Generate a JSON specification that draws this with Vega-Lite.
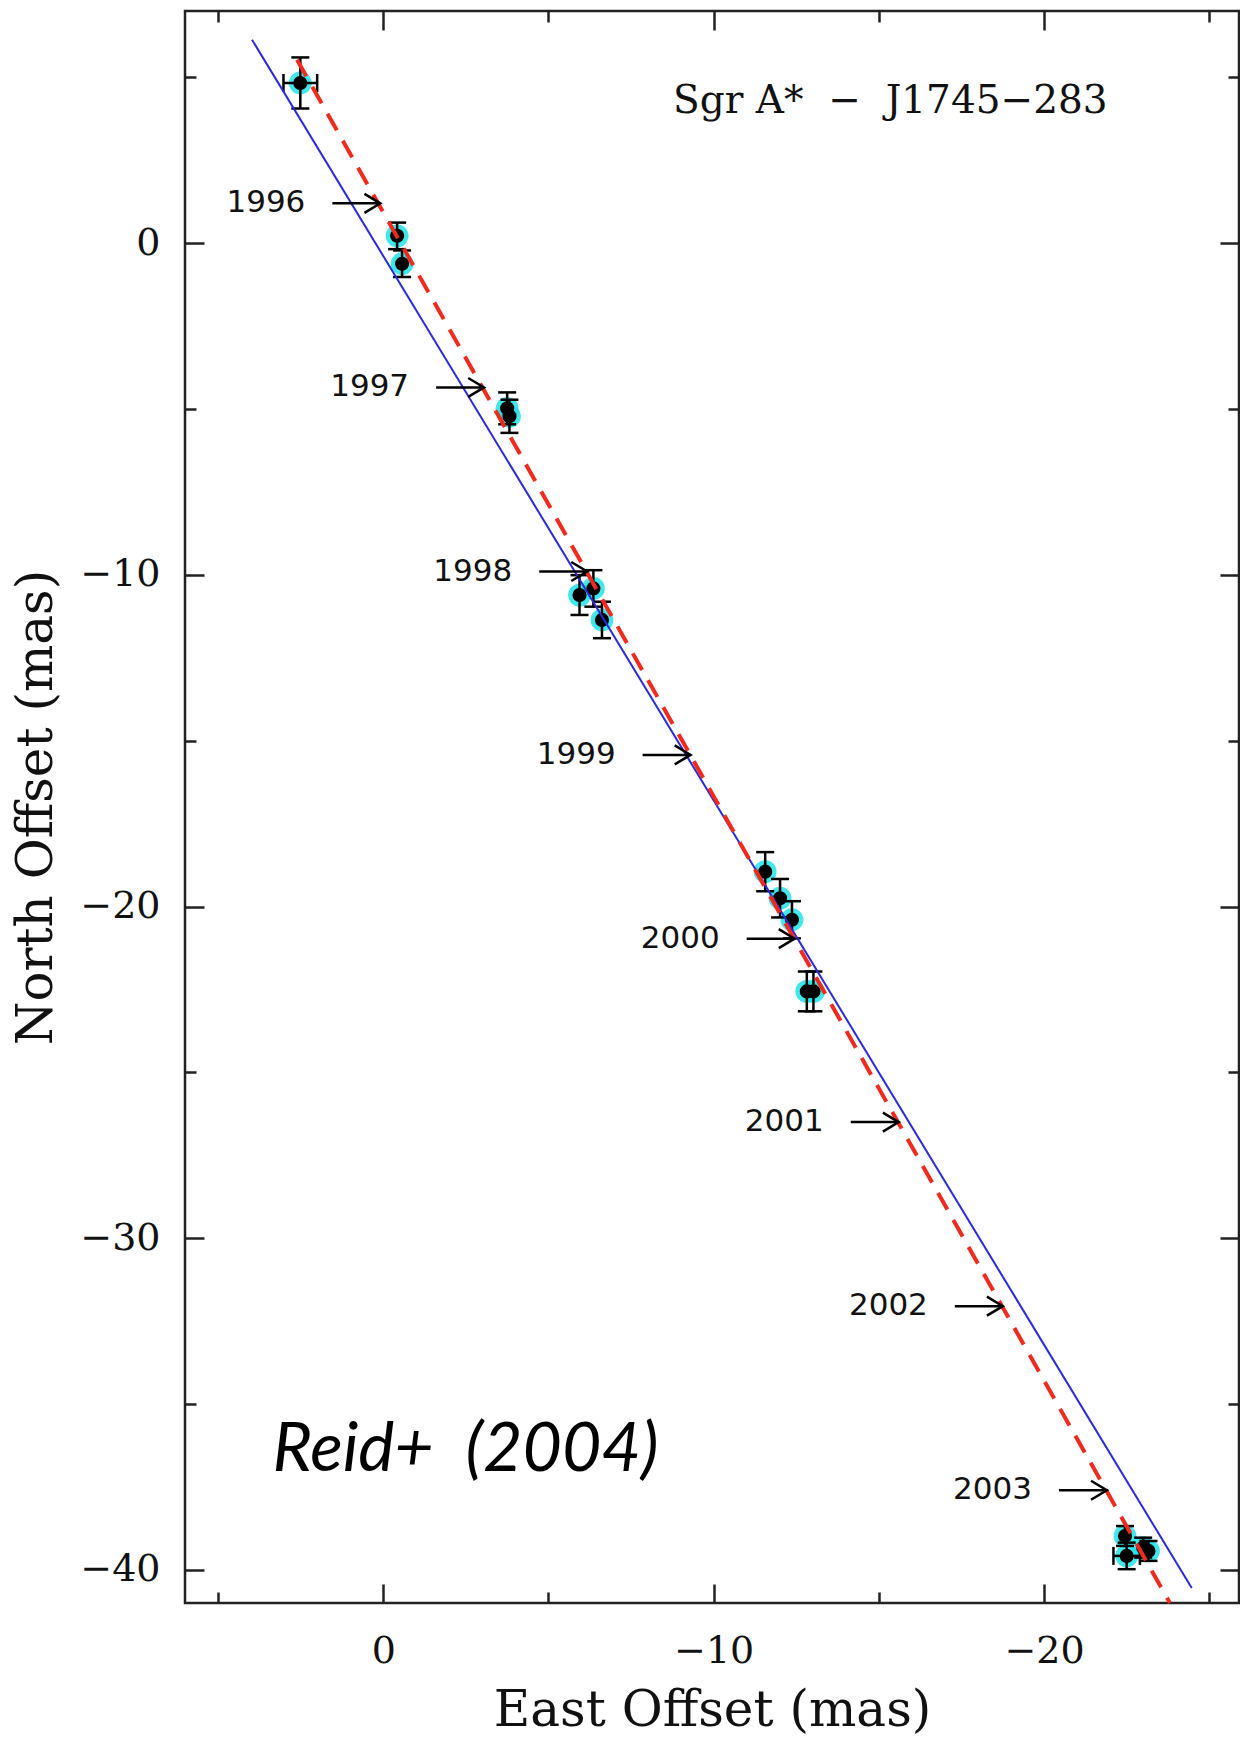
{
  "$schema": "https://vega.github.io/schema/vega-lite/v6.json",
  "autosize": {"type": "none"},
  "width": 1054,
  "height": 1592,
  "padding": {"left": 185, "top": 11, "right": 1, "bottom": 134},
  "background": "white",
  "datasets": {
    "points": [
      {"x": 2.51, "y": 4.83, "ey": 0.77},
      {"x": -0.42, "y": 0.22, "ey": 0.4},
      {"x": -0.57, "y": -0.62, "ey": 0.4},
      {"x": -3.75, "y": -4.98, "ey": 0.48},
      {"x": -3.82, "y": -5.22, "ey": 0.5},
      {"x": -5.94, "y": -10.61, "ey": 0.6},
      {"x": -6.36, "y": -10.41, "ey": 0.55},
      {"x": -6.62, "y": -11.36, "ey": 0.55},
      {"x": -11.56, "y": -18.95, "ey": 0.59},
      {"x": -12.01, "y": -19.75, "ey": 0.58},
      {"x": -12.37, "y": -20.4, "ey": 0.56},
      {"x": -12.82, "y": -22.56, "ey": 0.6},
      {"x": -13.02, "y": -22.56, "ey": 0.6},
      {"x": -22.45, "y": -38.98, "ey": 0.3},
      {"x": -23.0, "y": -39.33, "ey": 0.3},
      {"x": -23.16, "y": -39.43, "ey": 0.3},
      {"x": -22.5, "y": -39.58, "ey": 0.4}
    ],
    "xerr": [
      {"x": 2.51, "y": 4.83, "ex": 0.51},
      {"x": -22.5, "y": -39.58, "ex": 0.4}
    ],
    "blue": [
      {"x": 3.97, "y": 6.13},
      {"x": -24.47, "y": -40.55}
    ],
    "red": [
      {"x": 2.61, "y": 5.53},
      {"x": -23.81, "y": -41.0}
    ],
    "years": [
      {"year": "1996", "x": 0.09, "x0": 1.54, "y": 1.2},
      {"year": "1997", "x": -3.05, "x0": -1.6, "y": -4.35},
      {"year": "1998", "x": -6.17, "x0": -4.72, "y": -9.9},
      {"year": "1999", "x": -9.3, "x0": -7.85, "y": -15.43},
      {"year": "2000", "x": -12.45, "x0": -11.0, "y": -20.97},
      {"year": "2001", "x": -15.6, "x0": -14.15, "y": -26.5},
      {"year": "2002", "x": -18.75, "x0": -17.3, "y": -32.05},
      {"year": "2003", "x": -21.9, "x0": -20.45, "y": -37.6}
    ],
    "notes": [
      {"label": "Sgr A*\u00a0 −\u00a0 J1745−283", "x": -8.77, "y": 3.93}
    ],
    "ref": [
      {"label": "Reid+\u00a0 (2004)", "x": 3.35, "y": -37.03}
    ]
  },
  "layer": [
    {
      "data": {"name": "points"},
      "mark": {"type": "point", "filled": true, "color": "#1fe3e8", "size": 520, "opacity": 0.85},
      "encoding": {
        "x": {"field": "x", "type": "quantitative", "axis": null},
        "y": {"field": "y", "type": "quantitative", "axis": null}
      }
    },
    {
      "data": {"name": "points"},
      "mark": {"type": "errorbar", "color": "black", "ticks": {"size": 18, "thickness": 2.5, "opacity": 1}, "rule": {"strokeWidth": 2.5}},
      "encoding": {
        "x": {"field": "x", "type": "quantitative", "axis": null},
        "y": {"field": "y", "type": "quantitative", "axis": null},
        "yError": {"field": "ey"}
      }
    },
    {
      "data": {"name": "xerr"},
      "mark": {"type": "errorbar", "color": "black", "ticks": {"size": 18, "thickness": 2.5, "opacity": 1}, "rule": {"strokeWidth": 2.5}},
      "encoding": {
        "x": {"field": "x", "type": "quantitative", "axis": null},
        "y": {"field": "y", "type": "quantitative", "axis": null},
        "xError": {"field": "ex"}
      }
    },
    {
      "data": {"name": "points"},
      "mark": {"type": "point", "filled": true, "color": "black", "size": 200, "opacity": 1},
      "encoding": {
        "x": {"field": "x", "type": "quantitative", "axis": null},
        "y": {"field": "y", "type": "quantitative", "axis": null}
      }
    },
    {
      "data": {"name": "blue"},
      "mark": {"type": "line", "color": "#2a2ad6", "strokeWidth": 2},
      "encoding": {
        "x": {
          "field": "x", "type": "quantitative",
          "scale": {"domain": [6, -25.9], "nice": false, "zero": false},
          "axis": {
            "orient": "bottom",
            "title": "East Offset (mas)",
            "values": [5, 0, -5, -10, -15, -20, -25],
            "labelExpr": "datum.value % 10 === 0 ? datum.label : ''",
            "tickSize": -19,
            "tickDash": {"condition": {"test": "datum.value % 10 !== 0", "value": [11, 200]}, "value": [200, 0]},
            "labelPadding": 78,
            "labelBaseline": "alphabetic",
            "labelFlush": false,
            "labelOverlap": false,
            "titleY": 122,
            "titleBaseline": "alphabetic"
          }
        },
        "y": {
          "field": "y", "type": "quantitative",
          "scale": {"domain": [-41, 7], "nice": false, "zero": false},
          "axis": {
            "orient": "left",
            "title": "North Offset (mas)",
            "values": [5, 0, -5, -10, -15, -20, -25, -30, -35, -40],
            "labelExpr": "datum.value % 10 === 0 ? datum.label : ''",
            "tickSize": -19,
            "tickDash": {"condition": {"test": "datum.value % 10 !== 0", "value": [11, 200]}, "value": [200, 0]},
            "labelPadding": 44,
            "labelFlush": false,
            "labelOverlap": false,
            "titleX": -134,
            "titleBaseline": "alphabetic"
          }
        }
      }
    },
    {
      "data": {"name": "red"},
      "mark": {"type": "line", "color": "#f02a1c", "strokeWidth": 4, "strokeDash": [19, 12]},
      "encoding": {
        "x": {
          "field": "x", "type": "quantitative",
          "scale": {"domain": [6, -25.9], "nice": false, "zero": false},
          "axis": {
            "orient": "top",
            "title": null,
            "labels": false,
            "values": [5, 0, -5, -10, -15, -20, -25],
            "tickSize": -19,
            "tickDash": {"condition": {"test": "datum.value % 10 !== 0", "value": [11, 200]}, "value": [200, 0]}
          }
        },
        "y": {
          "field": "y", "type": "quantitative",
          "scale": {"domain": [-41, 7], "nice": false, "zero": false},
          "axis": {
            "orient": "right",
            "title": null,
            "labels": false,
            "values": [5, 0, -5, -10, -15, -20, -25, -30, -35, -40],
            "tickSize": -19,
            "tickDash": {"condition": {"test": "datum.value % 10 !== 0", "value": [11, 200]}, "value": [200, 0]}
          }
        }
      }
    },
    {
      "data": {"name": "years"},
      "mark": {"type": "rule", "color": "black", "strokeWidth": 2.5},
      "encoding": {
        "x": {"field": "x0", "type": "quantitative", "axis": null},
        "x2": {"field": "x"},
        "y": {"field": "y", "type": "quantitative", "axis": null}
      }
    },
    {
      "data": {"name": "years"},
      "mark": {"type": "point", "shape": "M-1,-0.6L0,0L-1,0.6", "filled": false, "color": "black", "strokeWidth": 2.5, "size": 1000, "opacity": 1},
      "encoding": {
        "x": {"field": "x", "type": "quantitative", "axis": null},
        "y": {"field": "y", "type": "quantitative", "axis": null}
      }
    },
    {
      "data": {"name": "years"},
      "mark": {"type": "text", "font": "DejaVu Sans", "fontSize": 31, "align": "right", "baseline": "middle", "dx": -27, "color": "#111"},
      "encoding": {
        "x": {"field": "x0", "type": "quantitative", "axis": null},
        "y": {"field": "y", "type": "quantitative", "axis": null},
        "text": {"field": "year"}
      }
    },
    {
      "data": {"name": "notes"},
      "mark": {"type": "text", "font": "DejaVu Serif", "fontSize": 39, "align": "left", "baseline": "alphabetic", "color": "#111"},
      "encoding": {
        "x": {"field": "x", "type": "quantitative", "axis": null},
        "y": {"field": "y", "type": "quantitative", "axis": null},
        "text": {"field": "label"}
      }
    },
    {
      "data": {"name": "ref"},
      "mark": {"type": "text", "font": "Lato", "fontStyle": "italic", "fontSize": 68, "align": "left", "baseline": "alphabetic", "color": "black"},
      "encoding": {
        "x": {"field": "x", "type": "quantitative", "axis": null},
        "y": {"field": "y", "type": "quantitative", "axis": null},
        "text": {"field": "label"}
      }
    }
  ],
  "resolve": {"axis": {"x": "independent", "y": "independent"}},
  "config": {
    "view": {"stroke": "#222", "strokeWidth": 2.5},
    "axis": {
      "domain": false,
      "grid": false,
      "tickColor": "#222",
      "tickWidth": 2.5,
      "labelFont": "DejaVu Serif",
      "labelFontSize": 38,
      "labelColor": "#111",
      "titleFont": "DejaVu Serif",
      "titleFontSize": 50,
      "titleFontWeight": "normal",
      "titleColor": "#111"
    }
  }
}
